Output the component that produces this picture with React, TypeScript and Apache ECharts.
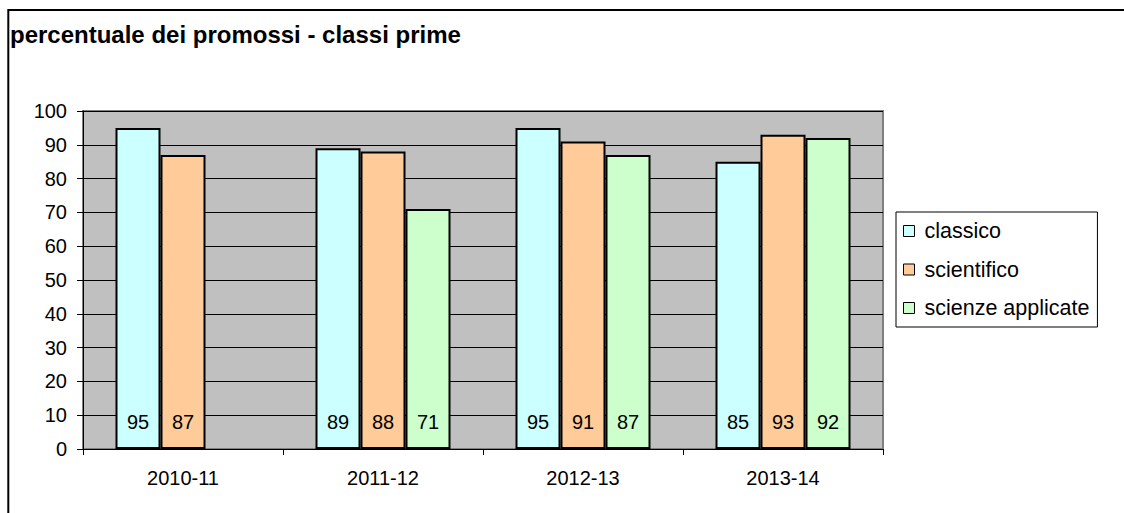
import React, { useEffect, useRef } from "react";
import * as echarts from "echarts";

const categories = ["2010-11", "2011-12", "2012-13", "2013-14"];
const classico = [95, 89, 95, 85];
const scientifico = [87, 88, 91, 93];
const scienzeApplicate: (number | null)[] = [null, 71, 87, 92];
const yTicks = { min: 0, max: 100, interval: 10 };
const titleText = "percentuale dei promossi - classi prime";

const FONT = "'Liberation Sans', Arial, sans-serif";

export default function App() {
  const ref = useRef<HTMLDivElement>(null);
  useEffect(() => {
    if (!ref.current) return;
    const chart = echarts.init(ref.current, null, { renderer: "svg" });
    const label = {
      show: true,
      position: "insideBottom" as const,
      distance: 17,
      color: "#000",
      fontSize: 20,
      fontFamily: FONT,
    };
    const mk = (name: string, data: (number | null)[], color: string) => ({
      name,
      type: "bar" as const,
      data,
      barGap: "0%",
      barCategoryGap: "32.5%",
      itemStyle: { color, borderColor: "#000", borderWidth: 2 },
      label,
    });
    chart.setOption({
      animation: false,
      textStyle: { fontFamily: FONT },
      title: {
        text: titleText,
        left: 6,
        top: 22,
        padding: [0, 4],
        textStyle: { fontSize: 24, fontWeight: "bold", color: "#000", fontFamily: FONT },
      },
      graphic: [
        {
          type: "rect",
          shape: { x: 8.3, y: 10, width: 3000, height: 3000 },
          style: { fill: "none", stroke: "#000", lineWidth: 2 },
          silent: true,
        },
      ],
      legend: {
        orient: "vertical",
        left: 896,
        top: 212,
        padding: [8, 8, 8, 7],
        borderColor: "#000",
        borderWidth: 1,
        itemWidth: 11,
        itemHeight: 11,
        itemGap: 16.5,
        icon: "rect",
        itemStyle: { borderColor: "#000", borderWidth: 1 },
        textStyle: { fontSize: 21.5, color: "#000", fontFamily: FONT, lineHeight: 21, padding: [0, 0, 0, 5] },
      },
      grid: {
        left: 83,
        top: 111,
        width: 800,
        height: 338,
        show: true,
        backgroundColor: "#C0C0C0",
        borderColor: "#808080",
        borderWidth: 2,
      },
      xAxis: {
        type: "category",
        data: categories,
        axisLine: { lineStyle: { color: "#000", width: 1 } },
        axisTick: { show: true, length: 6, lineStyle: { color: "#000" } },
        axisLabel: { color: "#000", fontSize: 20, margin: 19, fontFamily: FONT },
      },
      yAxis: {
        type: "value",
        min: yTicks.min,
        max: yTicks.max,
        interval: yTicks.interval,
        axisLine: { show: true, lineStyle: { color: "#000", width: 1 } },
        axisTick: { show: true, length: 6, lineStyle: { color: "#000" } },
        splitLine: { show: true, lineStyle: { color: "#000", width: 1 } },
        axisLabel: { color: "#000", fontSize: 20, margin: 16, fontFamily: FONT },
      },
      series: [
        mk("classico", classico, "#CCFFFF"),
        mk("scientifico", scientifico, "#FFCC99"),
        mk("scienze applicate", scienzeApplicate, "#CCFFCC"),
      ],
    });
    return () => chart.dispose();
  }, []);
  return (
    <div
      ref={ref}
      style={{ position: "fixed", left: 0, top: 0, width: 1124, height: 513, background: "#fff" }}
    />
  );
}
